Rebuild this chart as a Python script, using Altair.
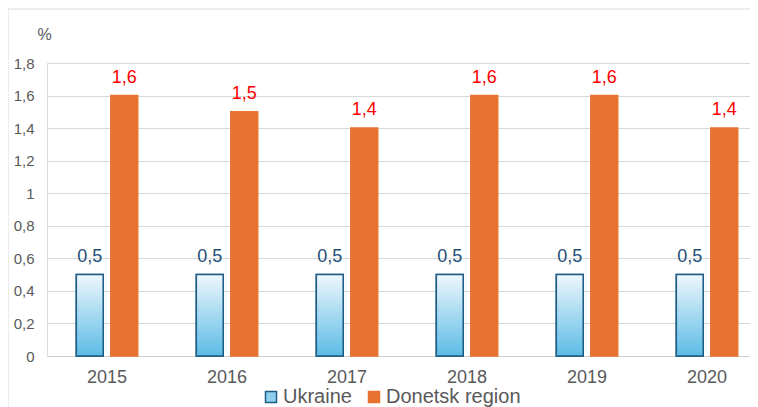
import altair as alt
import pandas as pd

years = ["2015", "2016", "2017", "2018", "2019", "2020"]
ukraine = [0.5, 0.5, 0.5, 0.5, 0.5, 0.5]
donetsk = [1.6, 1.5, 1.4, 1.6, 1.6, 1.4]
series = ["Ukraine", "Donetsk region"]
y_ticks = [0, 0.2, 0.4, 0.6, 0.8, 1.0, 1.2, 1.4, 1.6, 1.8]

rows = []
for yr, u, d in zip(years, ukraine, donetsk):
    rows.append({"year": yr, "series": series[0], "value": u})
    rows.append({"year": yr, "series": series[1], "value": d})
df = pd.DataFrame(rows)
df["label"] = df["value"].map(lambda v: f"{v:.1f}".replace(".", ","))

FONT = "Liberation Sans"
GRAY = "#595959"
BLUE_STROKE = "#1e5e84"
ORANGE = "#E8722F"

x_enc = alt.X(
    "year:N",
    sort=years,
    scale=alt.Scale(range=[0, 720], paddingInner=0, paddingOuter=0),
    axis=alt.Axis(
        title=None, labelAngle=0, ticks=False, domainColor="#d0d0d0",
        labelFontSize=18, labelColor=GRAY, labelFont=FONT, labelPadding=12,
    ),
)
xoff_enc = alt.XOffset(
    "series:N", sort=series,
    scale=alt.Scale(domain=series, paddingInner=0.22, paddingOuter=0.85),
)
y_enc = alt.Y(
    "value:Q",
    scale=alt.Scale(domain=[0, 1.8], nice=False),
    axis=alt.Axis(
        values=y_ticks, grid=True, gridColor="#d9d9d9", domain=False, ticks=False,
        labelPadding=13, labelFontSize=15, labelColor=GRAY, labelFont=FONT,
        labelExpr="replace(format(datum.value, '.1~f'), '.', ',')",
        title="%", titleAngle=0, titleX=-3, titleY=-29, titleAlign="center",
        titleBaseline="middle", titleFontSize=16, titleFontWeight="normal",
        titleColor=GRAY, titleFont=FONT,
    ),
)

legend = alt.Legend(
    title=None, orient="none", legendX=214, legendY=324, direction="horizontal",
    symbolType="square", symbolSize=121, symbolStrokeWidth=1.5,
    labelFontSize=20, labelFont=FONT, labelColor=GRAY, labelOffset=2,
    columnPadding=12, padding=0,
)

base = alt.Chart(df)

bars = base.mark_bar(strokeWidth=1.5).encode(
    x=x_enc, xOffset=xoff_enc, y=y_enc,
    color=alt.Color("series:N", sort=series,
                    scale=alt.Scale(domain=series, range=["#8fd0ee", ORANGE]),
                    legend=legend),
    stroke=alt.Stroke("series:N", sort=series,
                      scale=alt.Scale(domain=series, range=[BLUE_STROKE, ORANGE]),
                      legend=legend),
)

gradient = alt.Gradient(
    gradient="linear",
    stops=[alt.GradientStop(color="#eef7fc", offset=0),
           alt.GradientStop(color="#5cbbe6", offset=1)],
    x1=0, x2=0, y1=0, y2=1,
)

ukr_overlay = base.transform_filter(alt.datum.series == "Ukraine").mark_bar(
    fill=gradient, stroke=BLUE_STROKE, strokeWidth=1.5
).encode(x=x_enc, xOffset=xoff_enc, y=y_enc)

ukr_text = base.transform_filter(alt.datum.series == "Ukraine").mark_text(
    dy=-13, baseline="alphabetic", fontSize=18, font=FONT, color="#1f4e79"
).encode(x=x_enc, xOffset=xoff_enc, y=y_enc, text="label:N")

don_text = base.transform_filter(alt.datum.series == "Donetsk region").mark_text(
    dy=-13, baseline="alphabetic", fontSize=18, font=FONT, color="#ff0000"
).encode(x=x_enc, xOffset=xoff_enc, y=y_enc, text="label:N")

frame_df = pd.DataFrame({"a": [0]})
frame_left = alt.Chart(frame_df).mark_rule(color="#d9d9d9", strokeWidth=1).encode(
    x=alt.value(-39), y=alt.value(-54), y2=alt.value(352)
)
frame_top = alt.Chart(frame_df).mark_rule(color="#d9d9d9", strokeWidth=1).encode(
    x=alt.value(-39), x2=alt.value(703), y=alt.value(-54)
)

chart = alt.layer(frame_left, frame_top, bars, ukr_overlay, ukr_text, don_text).properties(
    width=703, height=293,
    autosize=alt.AutoSizeParams(type="none"),
    padding={"left": 39, "top": 55, "right": 0, "bottom": 54},
).configure_view(stroke=None).configure(font=FONT)

chart.save("out.html", embed_options={"renderer": "svg", "actions": False})
